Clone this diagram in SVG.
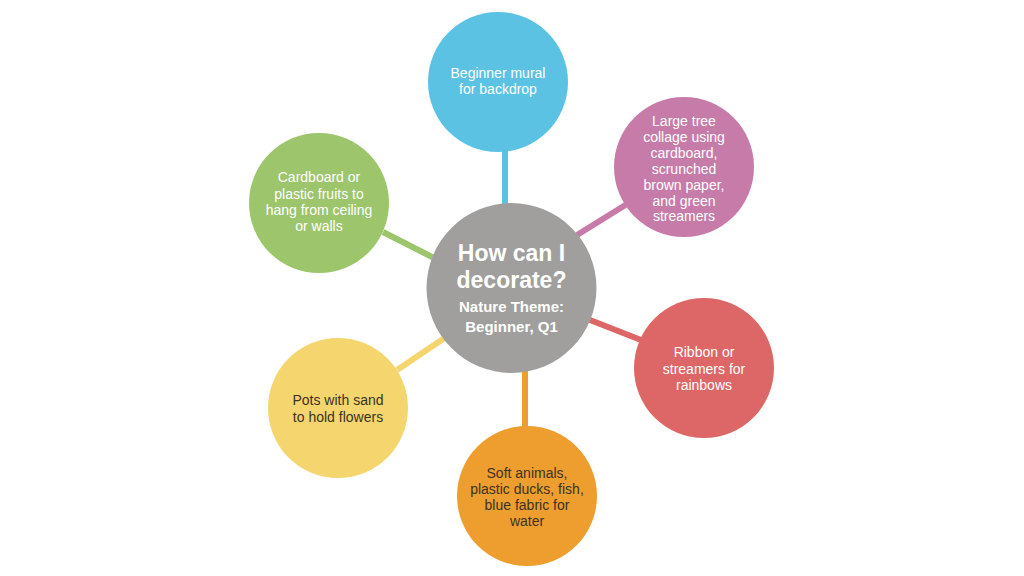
<svg xmlns="http://www.w3.org/2000/svg" width="1024" height="576" viewBox="0 0 1024 576">
<style>
.t{font-family:"Liberation Sans",Arial,sans-serif;font-size:14px;text-anchor:middle}
.w{fill:#ffffff}
.d{fill:#3b3322}
.c{stroke-width:6;stroke-linecap:butt}
.h{font-family:"Liberation Sans",Arial,sans-serif;font-weight:bold;fill:#ffffff;text-anchor:middle}
</style>
<rect width="1024" height="576" fill="#ffffff"/>
<g id="connectors" class="c">
<line x1="505" y1="206" x2="505" y2="148" stroke="#5BC2E4"/>
<line x1="577" y1="235" x2="627" y2="204" stroke="#C77BA8"/>
<line x1="590" y1="320" x2="641" y2="340" stroke="#DD6666"/>
<line x1="525" y1="370" x2="525" y2="428" stroke="#EE9E2E"/>
<line x1="397" y1="370" x2="446" y2="337" stroke="#F5D56E"/>
<line x1="383" y1="232" x2="434" y2="258" stroke="#9CC56C"/>
</g>
<g id="n-blue">
<circle cx="498" cy="82" r="70" fill="#5BC2E4"/>
<text class="t w" x="498"><tspan x="498" y="78">Beginner mural</tspan><tspan x="498" y="94">for backdrop</tspan></text>
</g>
<g id="n-pink">
<circle cx="684" cy="167" r="70" fill="#C77BA8"/>
<text class="t w"><tspan x="684" y="126">Large tree</tspan><tspan x="684" y="142">collage using</tspan><tspan x="684" y="158">cardboard,</tspan><tspan x="684" y="174">scrunched</tspan><tspan x="684" y="190">brown paper,</tspan><tspan x="684" y="206">and green</tspan><tspan x="684" y="221">streamers</tspan></text>
</g>
<g id="n-red">
<circle cx="704" cy="368" r="70" fill="#DD6666"/>
<text class="t w"><tspan x="704" y="357">Ribbon or</tspan><tspan x="704" y="374">streamers for</tspan><tspan x="704" y="390">rainbows</tspan></text>
</g>
<g id="n-orange">
<circle cx="527" cy="496" r="70" fill="#EE9E2E"/>
<text class="t d"><tspan x="527" y="478">Soft animals,</tspan><tspan x="527" y="494">plastic ducks, fish,</tspan><tspan x="527" y="510">blue fabric for</tspan><tspan x="527" y="526">water</tspan></text>
</g>
<g id="n-yellow">
<circle cx="338" cy="408" r="70" fill="#F5D56E"/>
<text class="t d"><tspan x="338" y="405">Pots with sand</tspan><tspan x="338" y="422">to hold flowers</tspan></text>
</g>
<g id="n-green">
<circle cx="319" cy="203" r="70" fill="#9CC56C"/>
<text class="t w"><tspan x="319" y="182">Cardboard or</tspan><tspan x="319" y="199">plastic fruits to</tspan><tspan x="319" y="215">hang from ceiling</tspan><tspan x="319" y="231">or walls</tspan></text>
</g>
<g id="n-center">
<circle cx="511.5" cy="288" r="85" fill="#A09F9D"/>
<text class="h" font-size="23"><tspan x="511.5" y="261">How can I</tspan><tspan x="511.5" y="288">decorate?</tspan></text>
<text class="h" font-size="15"><tspan x="511.5" y="312">Nature Theme:</tspan><tspan x="511.5" y="332">Beginner, Q1</tspan></text>
</g>
</svg>
